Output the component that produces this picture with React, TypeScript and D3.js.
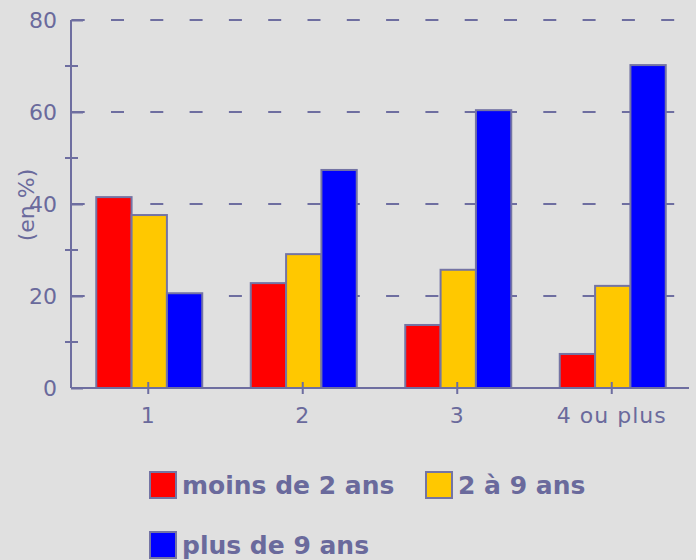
import React, { useEffect, useRef } from "react";
import * as d3 from "d3";

const categories = ["1", "2", "3", "4 ou plus"];
const series = ["moins de 2 ans", "2 à 9 ans", "plus de 9 ans"];
const moinsDe2 = [41.5, 22.8, 13.7, 7.4];
const deux9 = [37.6, 29.1, 25.7, 22.2];
const plusDe9 = [20.6, 47.4, 60.4, 70.2];
const yTicks = [0, 20, 40, 60, 80];
const yMinorTicks = [10, 30, 50, 70];
const colors = ["#ff0000", "#ffc800", "#0000ff"];

const App: React.FC = () => {
  const svgRef = useRef<SVGSVGElement>(null);

  useEffect(() => {
    const values = [moinsDe2, deux9, plusDe9];
    const data = categories.map((c, i) => ({
      cat: c,
      vals: series.map((s, j) => ({ key: s, value: values[j][i], color: colors[j] })),
    }));

    const width = 696;
    const height = 560;
    const left = 71;
    const right = 689;
    const top = 20;
    const bottom = 388;
    const axisColor = "#6e6ea0";
    const textColor = "#6a6a9c";

    const svg = d3.select(svgRef.current);
    svg.selectAll("*").remove();

    svg.append("rect").attr("width", width).attr("height", height).attr("fill", "#e0e0e0");

    const x = d3.scaleBand().domain(categories).range([left, right]);
    const groupW = 106;
    const x1 = d3.scaleBand().domain(series).range([0, groupW]);
    const y = d3.scaleLinear().domain([0, 80]).range([bottom, top]);

    // dashed gridlines
    svg.append("g")
      .selectAll("line")
      .data(yTicks.filter((t) => t > 0))
      .enter()
      .append("line")
      .attr("x1", left + 0.7)
      .attr("x2", 675)
      .attr("y1", (d) => y(d))
      .attr("y2", (d) => y(d))
      .attr("stroke", axisColor)
      .attr("stroke-width", 2)
      .attr("stroke-dasharray", "13,26.3");

    // bars
    const groups = svg
      .append("g")
      .selectAll("g")
      .data(data)
      .enter()
      .append("g")
      .attr("transform", (d) => `translate(${x(d.cat)! + x.bandwidth() / 2 - groupW / 2 + 1},0)`);

    groups
      .selectAll("rect")
      .data((d) => d.vals)
      .enter()
      .append("rect")
      .attr("x", (d) => x1(d.key)!)
      .attr("y", (d) => y(d.value))
      .attr("width", x1.bandwidth())
      .attr("height", (d) => y(0) - y(d.value))
      .attr("fill", (d) => d.color)
      .attr("stroke", "#7474a4")
      .attr("stroke-width", 2);

    // y axis
    const yAxis = svg.append("g").attr("transform", `translate(${left},0)`);
    yAxis
      .call(
        d3.axisLeft(y).tickValues(yTicks).tickSize(5).tickPadding(9).tickFormat((d) => `${d}`)
      )
      .call((g) => g.select(".domain").remove());
    yAxis.selectAll(".tick line").attr("x2", 12).attr("stroke", axisColor).attr("stroke-width", 2);
    yAxis
      .selectAll(".tick text")
      .attr("fill", textColor)
      .attr("font-family", "DejaVu Sans")
      .attr("font-size", 22)
      .attr("dy", "0.36em");
    yAxis
      .selectAll(".minor")
      .data(yMinorTicks)
      .enter()
      .append("line")
      .attr("class", "minor")
      .attr("x1", -6)
      .attr("x2", 7)
      .attr("y1", (d) => y(d))
      .attr("y2", (d) => y(d))
      .attr("stroke", axisColor)
      .attr("stroke-width", 2);
    yAxis
      .append("line")
      .attr("x1", 0)
      .attr("x2", 0)
      .attr("y1", top)
      .attr("y2", bottom)
      .attr("stroke", axisColor)
      .attr("stroke-width", 2);

    // x axis
    const xAxis = svg.append("g").attr("transform", `translate(0,${bottom})`);
    xAxis.call(d3.axisBottom(x).tickSize(6).tickPadding(13)).call((g) => g.select(".domain").remove());
    xAxis.selectAll(".tick line").attr("y1", -6).attr("stroke", axisColor).attr("stroke-width", 2);
    xAxis
      .selectAll(".tick text")
      .attr("fill", textColor)
      .attr("font-family", "DejaVu Sans")
      .attr("font-size", 22)
      .attr("letter-spacing", 1);
    xAxis
      .append("line")
      .attr("x1", left)
      .attr("x2", right)
      .attr("stroke", axisColor)
      .attr("stroke-width", 2);

    // y title
    svg
      .append("text")
      .attr("transform", `translate(34,205) rotate(-90)`)
      .attr("text-anchor", "middle")
      .attr("fill", textColor)
      .attr("font-family", "DejaVu Sans")
      .attr("font-size", 22)
      .text("(en %)");

    // legend
    const legendPos = [
      { x: 150, y: 472 },
      { x: 426, y: 472 },
      { x: 150, y: 532 },
    ];
    const legend = svg
      .append("g")
      .selectAll("g")
      .data(series)
      .enter()
      .append("g")
      .attr("transform", (d, i) => `translate(${legendPos[i].x},${legendPos[i].y})`);
    legend
      .append("rect")
      .attr("width", 26)
      .attr("height", 26)
      .attr("fill", (d, i) => colors[i])
      .attr("stroke", "#7474a4")
      .attr("stroke-width", 2);
    legend
      .append("text")
      .attr("x", 32)
      .attr("y", 22)
      .attr("fill", textColor)
      .attr("font-family", "DejaVu Sans")
      .attr("font-weight", "bold")
      .attr("font-size", 25)
      .text((d) => d);
  }, []);

  return (
    <div>
      <svg
        ref={svgRef}
        width={696}
        height={560}
        style={{ position: "absolute", left: 0, top: 0, display: "block" }}
      ></svg>
    </div>
  );
};

export default App;
